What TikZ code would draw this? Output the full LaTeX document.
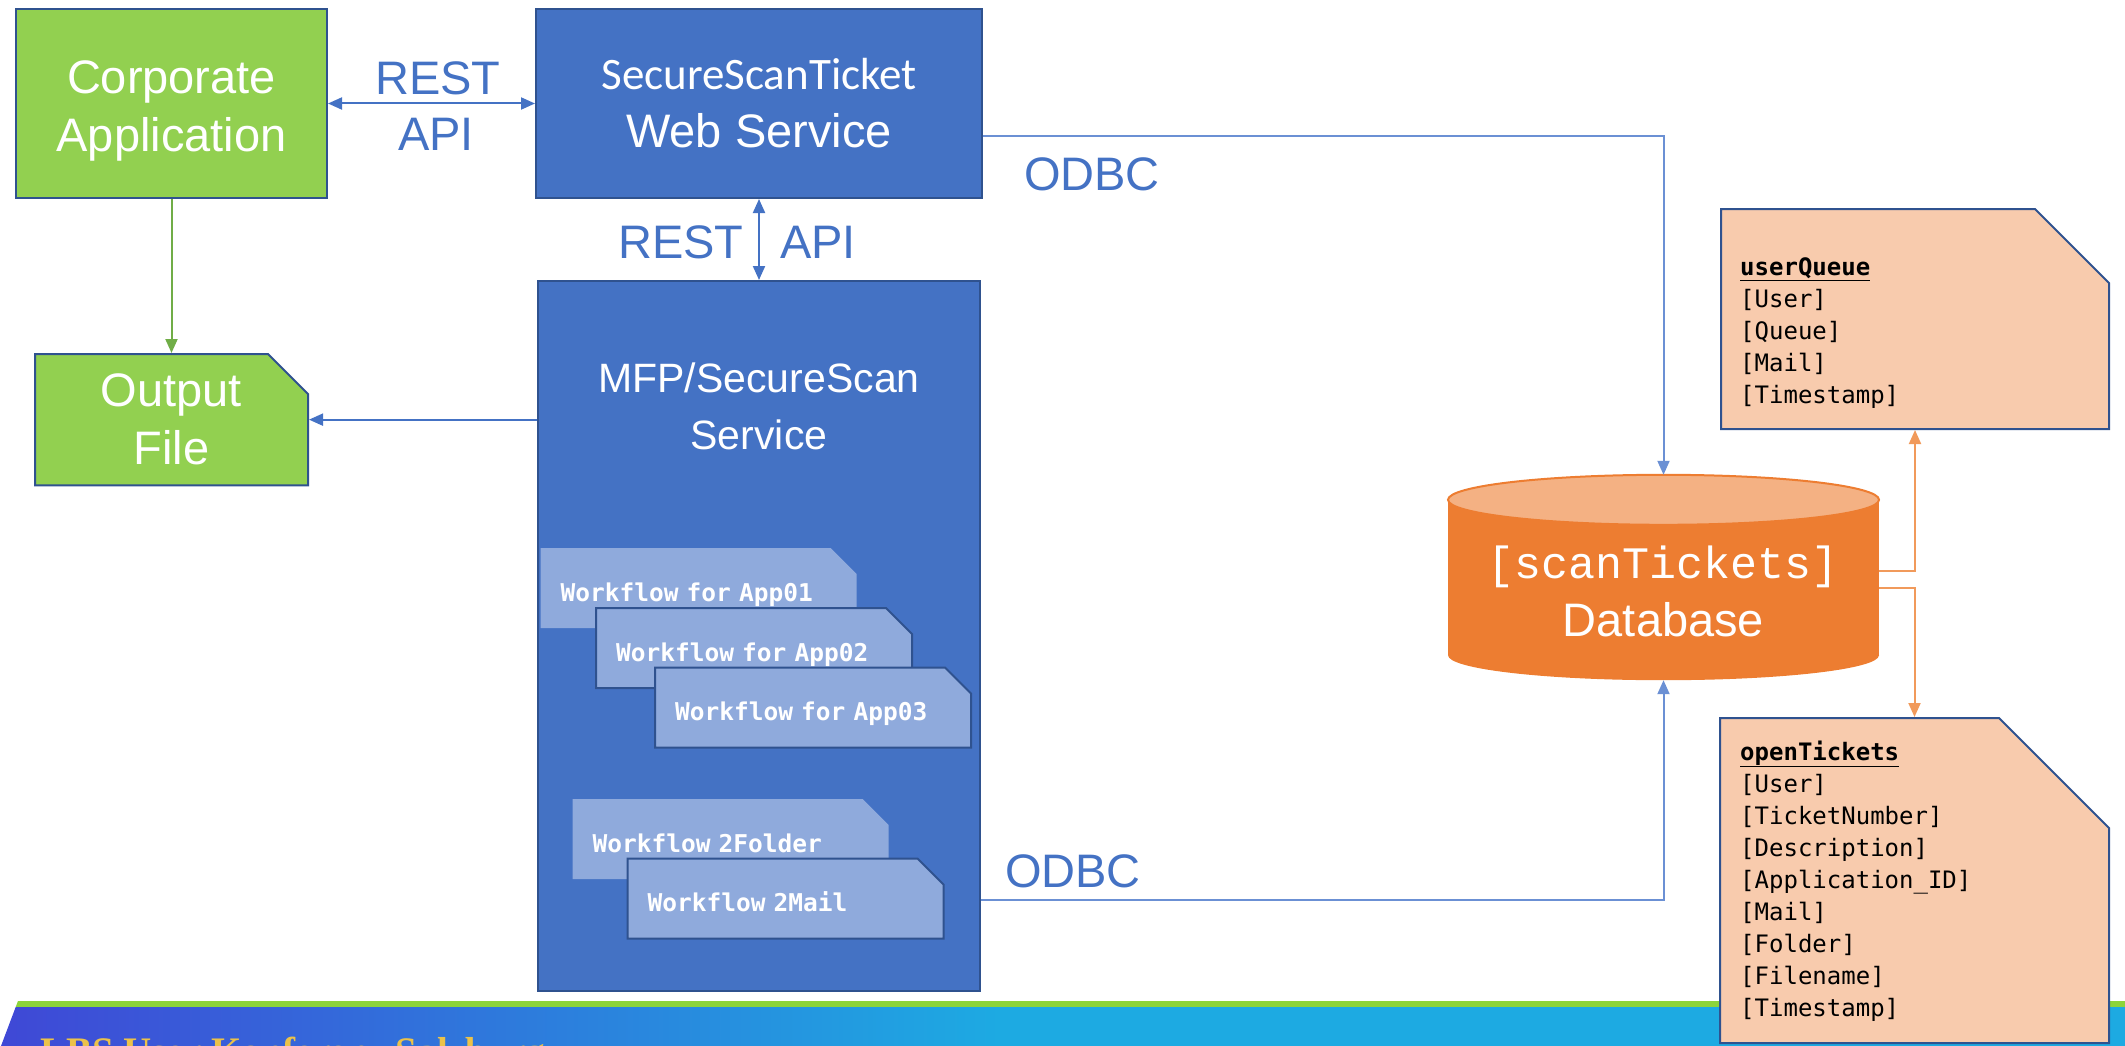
\documentclass[tikz,border=0pt]{standalone}
\usepackage{fontspec}
\setmainfont{Liberation Sans}
\setmonofont{DejaVu Sans Mono}
\newfontfamily\dbmono{Liberation Mono}
\newfontfamily\bannerfont{Liberation Serif}
\newfontfamily\calibrifont{Carlito}
\usepackage{xcolor}
\usetikzlibrary{arrows.meta,positioning,shapes.misc}

\definecolor{AppGreen}{HTML}{92D050}
\definecolor{ArrowGreen}{HTML}{70AD47}
\definecolor{SvcBlue}{HTML}{4472C4}
\definecolor{EdgeBlue}{HTML}{2F528F}
\definecolor{CardBlue}{HTML}{8FAADC}
\definecolor{DbOrange}{HTML}{ED7D31}
\definecolor{DbTop}{HTML}{F4B183}
\definecolor{TableFill}{HTML}{F8CBAD}
\definecolor{LinkOrange}{HTML}{F19A5B}
\definecolor{LinkBlue}{HTML}{4472C4}
\definecolor{OdbcBlue}{HTML}{6B90D4}
\definecolor{BannerGreen}{HTML}{8CD43A}
\definecolor{BannerLeft}{HTML}{3F48D6}
\definecolor{BannerRight}{HTML}{1DAAE2}
\definecolor{BannerText}{HTML}{EBC24A}

\tikzset{
  appbox/.style={
    rectangle,
    draw=EdgeBlue,
    line width=2pt,
    fill=AppGreen,
    text=white,
    align=center,
    inner sep=0pt,
    font=\fontsize{47}{58}\selectfont
  },
  svcbox/.style={
    appbox,
    fill=SvcBlue,
    font=\fontsize{47}{58}\selectfont
  },
  svctext/.style={
    text=white,
    align=center,
    inner sep=0pt,
    font=\fontsize{41}{57}\selectfont
  },
  filebox/.style={
    appbox,
    chamfered rectangle,
    chamfered rectangle corners=north east,
    chamfered rectangle xsep=20pt,
    chamfered rectangle ysep=20pt
  },
  card/.style={
    chamfered rectangle,
    chamfered rectangle corners=north east,
    chamfered rectangle xsep=13pt,
    chamfered rectangle ysep=13pt,
    fill=CardBlue,
    draw=none,
    text=white,
    font=\ttfamily\bfseries\fontsize{24.5}{28}\selectfont,
    inner sep=0pt,
    minimum width=316pt,
    minimum height=80pt,
    text width=276pt,
    align=left,
    text height=32pt,
    text depth=6pt
  },
  framedcard/.style={card, draw=EdgeBlue, line width=2pt},
  tablebox/.style={
    chamfered rectangle,
    chamfered rectangle corners=north east,
    fill=TableFill,
    draw=EdgeBlue,
    line width=2pt,
    inner sep=0pt,
    text width=260pt,
    text height=70pt,
    text depth=70pt
  },
  tabletext/.style={
    inner sep=0pt,
    align=left,
    text=black,
    font=\ttfamily\fontsize{24}{32}\selectfont
  },
  dbshape/.style={
    rectangle,
    minimum width=431pt,
    minimum height=205pt,
    inner sep=0pt
  },
  dbtext/.style={
    text=white,
    align=center,
    inner sep=0pt,
    font=\fontsize{47}{58}\selectfont
  },
  apilabel/.style={
    text=SvcBlue,
    inner sep=0pt,
    font=\fontsize{47}{56}\selectfont
  },
  bannertext/.style={
    text=BannerText,
    inner sep=0pt,
    font=\bannerfont\bfseries\fontsize{39}{44}\selectfont
  },
  line/.style={-{Triangle[length=14pt,width=12pt]}, line width=2pt, draw=LinkBlue},
  twoway/.style={{Triangle[length=14pt,width=12pt]}-{Triangle[length=14pt,width=12pt]}, line width=2pt, draw=LinkBlue},
  odbcline/.style={line, draw=OdbcBlue},
  greenline/.style={line, draw=ArrowGreen},
  orangeline/.style={line, draw=LinkOrange}
}

\begin{document}
\begin{tikzpicture}[x=1pt, y=-1pt]
\useasboundingbox (0,0) rectangle (2125,1046);

% banner
\begin{scope}
\clip (0,0) rectangle (2125,1046);
\fill[BannerGreen] (18,1001) -- (2125,1001) -- (2125,1007) -- (15.7,1007) -- cycle;
\shade[left color=BannerLeft, right color=BannerRight] (15.7,1007) -- (1000,1007) -- (1000,1046) -- (1,1046) -- cycle;
\fill[BannerRight] (999,1007) rectangle (2125,1046);
\node[bannertext, anchor=base west] (banner) at (40,1064) {LBS User Konferenz Salzburg};
\end{scope}

\node[appbox, minimum width=311pt, minimum height=189pt] (corp) at (171.5,103.5) {\rule{0pt}{47pt}Corporate\\Application};
\node[svcbox, minimum width=446pt, minimum height=189pt, right=207pt of corp] (web)
  {{\calibrifont\fontsize{45}{58}\selectfont SecureScanTicket}\\Web Service};
\node[svcbox, minimum width=442pt, minimum height=710pt, below=81pt of web] (mfp) {};
\node[svctext, below=83pt of mfp.north] (mfptext) {MFP/SecureScan\\Service};
\node[filebox, minimum width=273pt, minimum height=128pt, below=154pt of corp] (outfile) {Output\\File};

% workflows
\node[card] (app01) at (698.5,588) {Workflow for App01};
\node[framedcard] (app02) at (754,648) {Workflow for App02};
\node[framedcard] (app03) at (813,707.5) {Workflow for App03};
\node[card] (folder) at (730.5,839) {Workflow 2Folder};
\node[framedcard] (mail) at (785.5,898.5) {Workflow 2Mail};

% database
\node[dbshape] (db) at (1663.5,577.5) {};
\fill[DbOrange] ([yshift=-25pt]db.north west) rectangle ([yshift=25pt]db.south east);
\fill[DbOrange] ([yshift=25pt]db.south) ellipse [x radius=215.5pt, y radius=25pt];
\filldraw[fill=DbTop, draw=DbOrange, line width=2pt] ([yshift=-25pt]db.north) ellipse [x radius=215.5pt, y radius=25pt];
\node[dbtext, below=62.4pt of db.north] (dbname) {\strut{\dbmono\fontsize{45}{58}\selectfont [scanTickets]}\\Database};

% tables
\node[tablebox, minimum width=388pt, minimum height=220pt,
  chamfered rectangle xsep=37pt, chamfered rectangle ysep=37pt] (uq) at (1915,319) {};
\node[tabletext, below right=44.6pt and 20pt of uq.north west] (uqtext)
  {\strut\textbf{\underline{userQueue}}\\{}[User]\\{}[Queue]\\{}[Mail]\\{}[Timestamp]};
\node[tablebox, minimum width=389pt, minimum height=325pt,
  chamfered rectangle xsep=55pt, chamfered rectangle ysep=55pt] (ot) at (1914.5,880.5) {};
\node[tabletext, below right=20.6pt and 21pt of ot.north west] (ottext)
  {\strut\textbf{\underline{openTickets}}\\{}[User]\\{}[TicketNumber]\\{}[Description]\\{}[Application\_ID]\\{}[Mail]\\{}[Folder]\\{}[Filename]\\{}[Timestamp]};

% labels
\node[apilabel] (resta) at (438,78) {REST};
\node[apilabel] (apia) at (436,134) {API};
\node[apilabel] (restb) at (681,242) {REST};
\node[apilabel] (apib) at (818,242) {API};
\node[apilabel] (odbca) at (1092,174) {ODBC};
\node[apilabel] (odbcb) at (1073,871) {ODBC};

% connectors
\draw[twoway] (corp) -- (web);
\draw[twoway] (web.south) -- (mfp.north);
\draw[greenline] (corp.south) -- (outfile.north);
\draw[line] (mfp.west |- outfile.east) -- (outfile.east);
\draw[odbcline] ([yshift=-32.5pt]web.east) -| (db.north);
\draw[odbcline] ([yshift=-264pt]mfp.east) -| (db.south);
\draw[orangeline] ([yshift=6.5pt]db.east) -| (uq.south);
\draw[orangeline] ([yshift=-10.5pt]db.east) -| (ot.north);
\end{tikzpicture}
\end{document}
